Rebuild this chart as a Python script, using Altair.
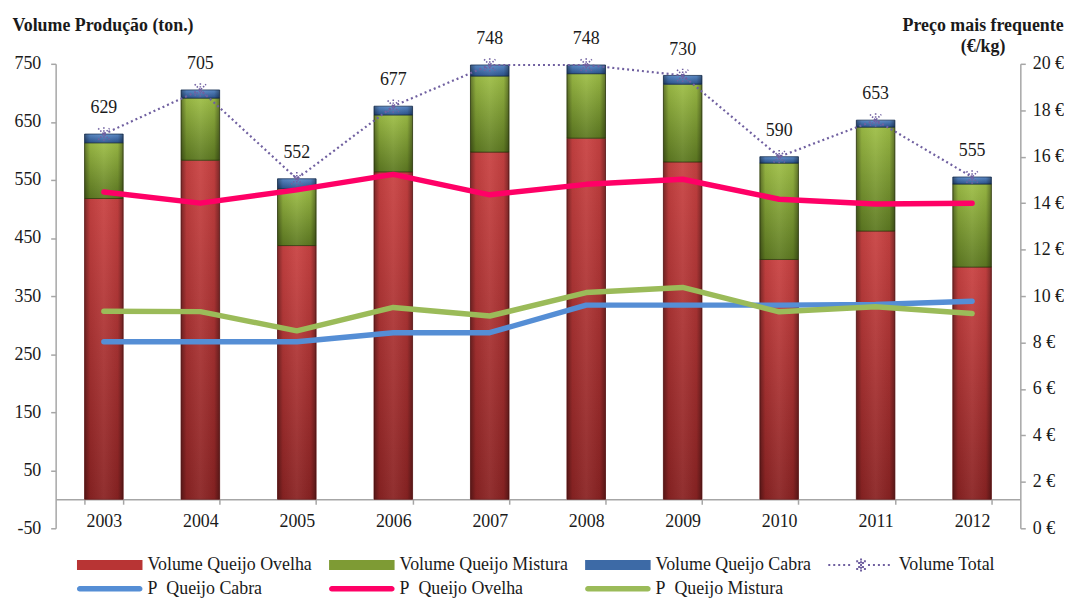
import math
import altair as alt
import pandas as pd

# ---------------- data ----------------
years = ["2003", "2004", "2005", "2006", "2007", "2008", "2009", "2010", "2011", "2012"]
vol_ovelha = [518, 584, 437, 564, 598, 622, 581, 413, 462, 400]
vol_mistura = [96, 107, 98, 98, 131, 111, 134, 166, 179, 143]
vol_cabra = [15, 14, 17, 15, 19, 15, 15, 11, 12, 12]
vol_total = [629, 705, 552, 677, 748, 748, 730, 590, 653, 555]
p_cabra = [8.03, 8.03, 8.03, 8.42, 8.42, 9.61, 9.61, 9.61, 9.64, 9.78]
p_ovelha = [14.48, 14.0, 14.57, 15.24, 14.36, 14.81, 15.03, 14.17, 13.96, 14.0]
p_mistura = [9.35, 9.33, 8.5, 9.51, 9.14, 10.15, 10.37, 9.32, 9.54, 9.25]

vol_ticks = [-50, 50, 150, 250, 350, 450, 550, 650, 750]
price_ticks = [0, 2, 4, 6, 8, 10, 12, 14, 16, 18, 20]

series_names = [
    "Volume Queijo Ovelha",
    "Volume Queijo Mistura",
    "Volume Queijo Cabra",
    "Volume Total",
    "P\u00a0 Queijo Cabra",
    "P\u00a0 Queijo Ovelha",
    "P\u00a0 Queijo Mistura",
]
series_colors = ["#B83434", "#7E9B34", "#3D6AA6", "#7060A0", "#558ED5", "#FF0066", "#9BBB59"]

# ---------------- table ----------------
df = pd.DataFrame({
    "year": years,
    "ovelha": vol_ovelha,
    "mistura": vol_mistura,
    "cabra": vol_cabra,
    "total": vol_total,
    "pcabra": p_cabra,
    "povelha": p_ovelha,
    "pmistura": p_mistura,
})
df["zero"] = 0
df["m_hi"] = df["ovelha"] + df["mistura"]
df["c_hi"] = df["m_hi"] + df["cabra"]

FONT = "Liberation Serif"
TXT = "#1a1a1a"
AX = "#A6A6A6"

x_scale = alt.Scale(paddingInner=0.6, paddingOuter=0.3)
vol_scale = alt.Scale(domain=[-50, 750], nice=False, zero=False)
price_scale = alt.Scale(domain=[0, 20], nice=False, zero=False)

x_axis = alt.Axis(
    orient="bottom", offset=-29.25, tickBand="extent", tickSize=5, labelAngle=0,
    labelFont=FONT, labelFontSize=18, labelColor=TXT, labelPadding=8,
    domainColor=AX, tickColor=AX, domainWidth=1.5, tickWidth=1.5, grid=False, title=None,
)
left_axis = alt.Axis(
    orient="left", values=vol_ticks, labelExpr="'' + datum.value", tickSize=5,
    labelPadding=10, labelFont=FONT,
    labelFontSize=18, labelColor=TXT, domainColor=AX, tickColor=AX, domainWidth=1.5,
    tickWidth=1.5, grid=False, title="Volume Produção (ton.)", titleAngle=0,
    titleAlign="left", titleBaseline="alphabetic", titleX=-44, titleY=-34,
    titleFont=FONT, titleFontSize=18, titleFontWeight="bold", titleColor=TXT,
)
right_axis = alt.Axis(
    orient="right", values=price_ticks, labelExpr="datum.value + ' €'", tickSize=5,
    labelPadding=7, labelFont=FONT, labelFontSize=18, labelColor=TXT, domainColor=AX,
    tickColor=AX, domainWidth=1.5, tickWidth=1.5, grid=False,
    title=["Preço mais frequente", "(€/kg)"], titleAngle=0, titleAlign="center",
    titleBaseline="alphabetic", titleX=-38, titleY=-34, titleLineHeight=22,
    titleFont=FONT, titleFontSize=18, titleFontWeight="bold", titleColor=TXT,
)


def X():
    return alt.X("year:N", sort=years, scale=x_scale, axis=x_axis, title=None)


def YV(field):
    return alt.Y(f"{field}:Q", scale=vol_scale, axis=left_axis, title=None)


def YP(field):
    return alt.Y(f"{field}:Q", scale=price_scale, axis=right_axis, title=None)


def vgrad(top, bottom):
    return alt.Gradient(
        gradient="linear", x1=0, x2=0, y1=0, y2=1,
        stops=[alt.GradientStop(color=top, offset=0), alt.GradientStop(color=bottom, offset=1)],
    )


edge_grad = alt.Gradient(
    gradient="linear", x1=0, x2=1, y1=0, y2=0,
    stops=[
        alt.GradientStop(color="rgba(0,0,0,0.38)", offset=0),
        alt.GradientStop(color="rgba(0,0,0,0.06)", offset=0.14),
        alt.GradientStop(color="rgba(255,255,255,0.06)", offset=0.5),
        alt.GradientStop(color="rgba(0,0,0,0.06)", offset=0.86),
        alt.GradientStop(color="rgba(0,0,0,0.38)", offset=1),
    ],
)

base = alt.Chart(df)


def bar_pair(lo, hi, top, bottom, stroke):
    b = base.mark_bar(fill=vgrad(top, bottom), stroke=stroke, strokeWidth=0.8).encode(
        x=X(), y=YV(hi), y2=alt.Y2(f"{lo}:Q"),
    )
    o = base.mark_bar(fill=edge_grad).encode(x=X(), y=YV(hi), y2=alt.Y2(f"{lo}:Q"))
    return [b, o]


bars = (
    bar_pair("zero", "ovelha", "#C94242", "#8A2323", "#6B1919")
    + bar_pair("ovelha", "m_hi", "#9EBE46", "#5E7A22", "#34420F")
    + bar_pair("m_hi", "c_hi", "#5D8DCB", "#2C5590", "#1C3558")
)

total_line = base.mark_line(color="#7060A0", strokeWidth=2.2, strokeDash=[2, 3]).encode(
    x=X(), y=YV("total")
)
STAR = "M-1,-1L1,1M-1,1L1,-1M0,-1.2L0,1.2"
stars = base.mark_point(
    shape=STAR, size=130, filled=False, stroke="#7060A0", strokeWidth=1.6,
    strokeDash=[1.5, 1.5], opacity=1,
).encode(x=X(), y=YV("total"))
labels = base.mark_text(
    dy=-21, baseline="alphabetic", font=FONT, fontSize=18, color=TXT
).encode(x=X(), y=YV("total"), text=alt.Text("total:Q"))

vol_layer = alt.layer(*bars, total_line, stars, labels)


def pline(field, color):
    return base.mark_line(color=color, strokeWidth=5.5, strokeCap="round", strokeJoin="round").encode(
        x=X(), y=YP(field)
    )


price_layer = alt.layer(
    pline("pcabra", "#558ED5"),
    pline("povelha", "#FF0066"),
    pline("pmistura", "#9BBB59"),
)

# ---------------- legend (symbols built as shapes) ----------------
U0, U1 = -1.0, 12.2  # symbol extent in symbol units (5 px per unit)
bar_sym = f"M{U0},-1H{U1}V1H{U0}Z"


def round_line(r=0.55):
    pts = []
    for k in range(9):
        a = -math.pi / 2 + math.pi * k / 8
        pts.append((U1 - r + r * math.cos(a), r * math.sin(a)))
    for k in range(9):
        a = math.pi / 2 + math.pi * k / 8
        pts.append((U0 + r + r * math.cos(a), r * math.sin(a)))
    return "M" + "L".join(f"{px:.3f},{py:.3f}" for px, py in pts) + "Z"


def dotted_sym():
    parts = []
    c = (U0 + U1) / 2
    d = 0.2
    x = U0 + 0.2
    while x < U1:
        if abs(x - c) > 1.5:
            parts.append(f"M{x - d:.2f},{-d}h{2 * d}v{2 * d}h{-2 * d}Z")
        x += 1.0
    for ang in [45, 135, 225, 315, 90, 270]:
        for rr in [0.55, 1.1]:
            px = c + rr * math.cos(math.radians(ang))
            py = rr * math.sin(math.radians(ang))
            parts.append(f"M{px - d:.2f},{py - d:.2f}h{2 * d}v{2 * d}h{-2 * d}Z")
    parts.append(f"M{c - d:.2f},{-d}h{2 * d}v{2 * d}h{-2 * d}Z")
    return "".join(parts)


line_sym = round_line()
series_shapes = [bar_sym, bar_sym, bar_sym, dotted_sym(), line_sym, line_sym, line_sym]

leg_df = pd.DataFrame({"series": series_names})
legend_def = dict(
    title=None, orient="none", legendX=17.5, legendY=496, columns=4, direction="horizontal",
    symbolSize=100, symbolStrokeWidth=0, labelOffset=57, columnPadding=13, rowPadding=6,
    labelFont=FONT, labelFontSize=18, labelColor=TXT, labelLimit=0, padding=0,
    symbolOpacity=1,
)
legend_layer = alt.Chart(leg_df).transform_filter("false").mark_point(filled=True, opacity=1).encode(
    color=alt.Color("series:N", scale=alt.Scale(domain=series_names, range=series_colors),
                    legend=alt.Legend(**legend_def)),
    shape=alt.Shape("series:N", scale=alt.Scale(domain=series_names, range=series_shapes),
                    legend=alt.Legend(**legend_def)),
)

chart = (
    alt.layer(vol_layer, price_layer, legend_layer)
    .resolve_scale(y="independent")
    .properties(
        width=972, height=468,
        padding={"left": 48, "top": 54, "right": 44, "bottom": 68},
        autosize=alt.AutoSizeParams(type="none"),
        background="white",
    )
    .configure_view(strokeWidth=0)
)

chart.save("out.html", embed_options={"renderer": "svg", "actions": False})
